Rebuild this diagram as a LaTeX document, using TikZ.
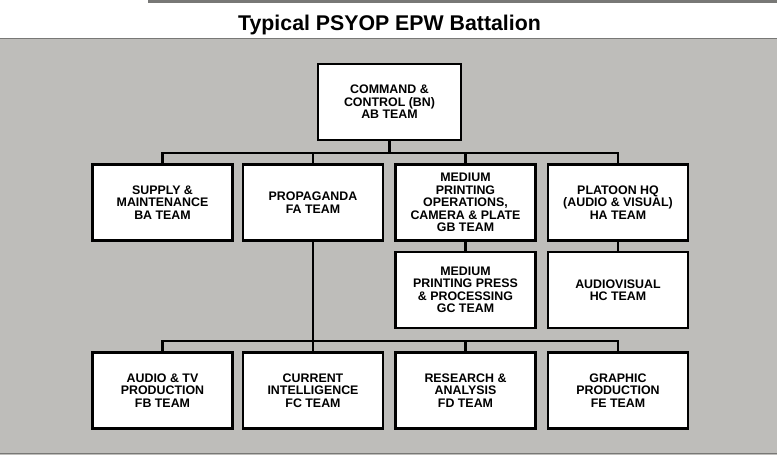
\documentclass[tikz,border=0pt]{standalone}
\usepackage{fontspec}
\setmainfont{Liberation Sans}
\definecolor{panel}{RGB}{190,189,186}
\definecolor{edge}{RGB}{120,120,118}
\begin{document}
\begin{tikzpicture}[x=1pt,y=-1pt,
  box/.style={draw=black, line width=2.2pt, fill=white, rectangle,
    minimum width=140pt, minimum height=76pt, inner sep=1pt, align=center,
    font=\bfseries\fontsize{12.4}{12.5}\selectfont},
  conn/.style={line width=2.2pt, line cap=rect}]
\useasboundingbox (0,0) rectangle (777,455);
% background
\fill[white] (0,0) rectangle (777,38);
\fill[edge] (148,0) rectangle (777,2.5);
\fill[panel] (0,38) rectangle (777,455);
\draw[edge, line width=1.2pt] (0,38.5) -- (777,38.5);
\draw[edge, line width=1.2pt] (0,453.5) -- (777,453.5);
% title
\node[font=\bfseries\fontsize{21.3}{22}\selectfont] (title) at (389.5,24.5) {Typical PSYOP EPW Battalion};
% boxes
\node[box, minimum width=143pt] (AB) at (389.5,102) {COMMAND \&\\CONTROL (BN)\\AB TEAM};
\node[box] (BA) at (162.5,202.5) {SUPPLY \&\\MAINTENANCE\\BA TEAM};
\node[box] (FA) at (313,202.5) {PROPAGANDA\\FA TEAM};
\node[box] (GB) at (465.5,202.5) {MEDIUM\\PRINTING\\OPERATIONS,\\CAMERA \& PLATE\\GB TEAM};
\node[box] (HA) at (618,202.5) {PLATOON HQ\\(AUDIO \& VISUAL)\\HA TEAM};
\node[box] (GC) at (465.5,290) {MEDIUM\\PRINTING PRESS\\\& PROCESSING\\GC TEAM};
\node[box] (HC) at (618,290) {AUDIOVISUAL\\HC TEAM};
\node[box] (FB) at (162.5,390.5) {AUDIO \& TV\\PRODUCTION\\FB TEAM};
\node[box] (FC) at (313,390.5) {CURRENT\\INTELLIGENCE\\FC TEAM};
\node[box] (FD) at (465.5,390.5) {RESEARCH \&\\ANALYSIS\\FD TEAM};
\node[box] (FE) at (618,390.5) {GRAPHIC\\PRODUCTION\\FE TEAM};
% connectors
\coordinate (bus1) at (389.5,153);
\coordinate (bus2) at (389.5,341);
\draw[conn] (AB.south) -- (AB.south |- bus1);
\draw[conn] (BA.north) -- (BA.north |- bus1) -- (HA.north |- bus1) -- (HA.north);
\draw[conn] (FA.north) -- (FA.north |- bus1);
\draw[conn] (GB.north) -- (GB.north |- bus1);
\draw[conn] (GB.south) -- (GC.north);
\draw[conn] (HA.south) -- (HC.north);
\draw[conn] (FA.south) -- (FC.north);
\draw[conn] (FB.north) -- (FB.north |- bus2) -- (FE.north |- bus2) -- (FE.north);
\draw[conn] (FD.north) -- (FD.north |- bus2);
\end{tikzpicture}
\end{document}
